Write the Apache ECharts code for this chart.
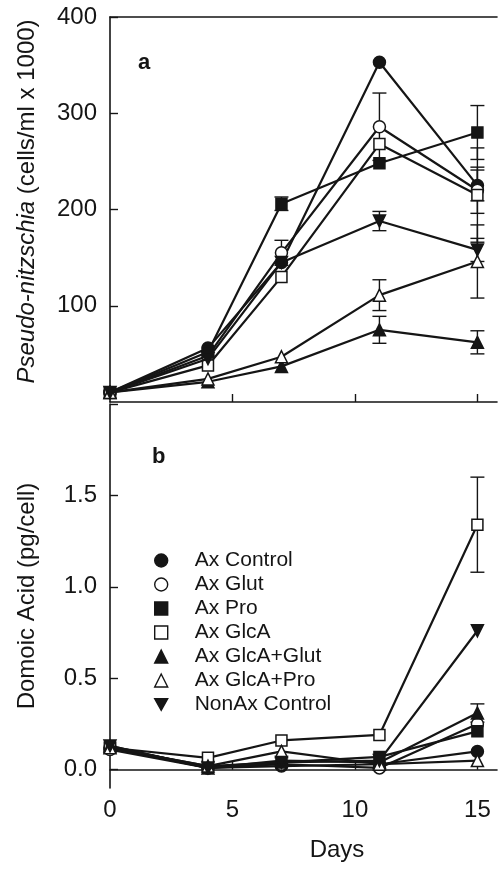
<!DOCTYPE html>
<html>
<head>
<meta charset="utf-8">
<script src="https://cdn.jsdelivr.net/npm/echarts@6/dist/echarts.min.js"></script>
<style>
html, body { margin: 0; padding: 0; background: #fff; }
#chart { width: 498px; height: 880px; }
</style>
</head>
<body>
<div id="chart"></div>
<script>
// sampling days
var days = [0, 4, 7, 11, 15];
var names = ['Ax Control', 'Ax Glut', 'Ax Pro', 'Ax GlcA', 'Ax GlcA+Glut', 'Ax GlcA+Pro', 'NonAx Control'];

// panel a - Pseudo-nitzschia (cells/ml x 1000)
var cellsAxControl = [10, 56, 145, 353, 225];
var cellsAxGlut    = [10, 48, 155, 286, 220];
var cellsAxPro     = [10, 52, 206, 248, 280];
var cellsAxGlcA    = [10, 38, 130, 268, 215];
var cellsGlcAGlut  = [10, 21, 37, 75, 62];
var cellsGlcAPro   = [10, 24, 47, 111, 146];
var cellsNonAx     = [10, 45, 145, 188, 158];

// panel a - error bars (0 = hidden under the marker)
var errAxControl = [0, 0, 0, 0, 16];
var errAxGlut    = [0, 0, 13, 35, 24];
var errAxPro     = [0, 0, 7, 0, 28];
var errAxGlcA    = [0, 0, 0, 0, 49];
var errGlcAGlut  = [0, 0, 0, 14, 12];
var errGlcAPro   = [0, 0, 0, 16, 38];
var errNonAx     = [0, 0, 0, 10, 12];

// panel b - domoic acid (pg/cell)
var daAxControl = [0.12, 0.01, 0.02, 0.03, 0.10];
var daAxGlut    = [0.11, 0.01, 0.03, 0.01, 0.25];
var daAxPro     = [0.12, 0.02, 0.04, 0.07, 0.21];
var daAxGlcA    = [0.12, 0.065, 0.16, 0.19, 1.34];
var daGlcAGlut  = [0.13, 0.01, 0.05, 0.04, 0.31];
var daGlcAPro   = [0.12, 0.02, 0.10, 0.03, 0.05];
var daNonAx     = [0.13, 0.01, 0.04, 0.05, 0.76];

var daErrAxGlcA   = [0, 0, 0, 0, 0.26];
var daErrGlcAGlut = [0, 0, 0, 0, 0.05];

// tick labels
var cellTicks = [100, 200, 300, 400];
var daTicks = [0, 0.5, 1.0, 1.5];
var dayTicks = [0, 5, 10, 15];

var FONT = '"Liberation Sans", Arial, sans-serif';
var INK = '#151515';
var downTri = 'path://M0,0L10,0L5,9Z';

// marker look for each treatment (same order as names)
var marks = [
  { symbol: 'circle',   fill: INK },
  { symbol: 'circle',   fill: '#fff' },
  { symbol: 'rect',     fill: INK },
  { symbol: 'rect',     fill: '#fff' },
  { symbol: 'triangle', fill: INK },
  { symbol: 'triangle', fill: '#fff' },
  { symbol: downTri,    fill: INK }
];

var cellSets = [cellsAxControl, cellsAxGlut, cellsAxPro, cellsAxGlcA, cellsGlcAGlut, cellsGlcAPro, cellsNonAx];
var cellErrs = [errAxControl, errAxGlut, errAxPro, errAxGlcA, errGlcAGlut, errGlcAPro, errNonAx];
var daSets = [daAxControl, daAxGlut, daAxPro, daAxGlcA, daGlcAGlut, daGlcAPro, daNonAx];
var daErrs = [null, null, null, daErrAxGlcA, daErrGlcAGlut, null, null];

function pairs(vals) {
  return days.map(function (d, i) { return [d, vals[i]]; });
}

function errPoints(sets, errs) {
  var out = [];
  sets.forEach(function (vals, s) {
    if (!errs[s]) return;
    errs[s].forEach(function (e, i) {
      if (e > 0) out.push([days[i], vals[i], e]);
    });
  });
  return out;
}

// vertical bar with caps
function errorBar(params, api) {
  var x = api.value(0), y = api.value(1), e = api.value(2);
  var hi = api.coord([x, y + e]);
  var lo = api.coord([x, y - e]);
  var w = 7;
  var st = { stroke: INK, lineWidth: 1.4 };
  return {
    type: 'group',
    children: [
      { type: 'line', shape: { x1: hi[0], y1: hi[1], x2: lo[0], y2: lo[1] }, style: st },
      { type: 'line', shape: { x1: hi[0] - w, y1: hi[1], x2: hi[0] + w, y2: hi[1] }, style: st },
      { type: 'line', shape: { x1: lo[0] - w, y1: lo[1], x2: lo[0] + w, y2: lo[1] }, style: st }
    ]
  };
}

function lineSeries(name, i, vals, xi, yi) {
  var m = marks[i];
  return {
    name: name,
    type: 'line',
    xAxisIndex: xi,
    yAxisIndex: yi,
    data: pairs(vals),
    symbol: m.symbol,
    symbolSize: m.symbol === 'rect' ? 11 : 12,
    clip: false,
    z: 3 + i,
    lineStyle: { color: INK, width: 2.2 },
    itemStyle: { color: m.fill, borderColor: INK, borderWidth: 1.5 },
    emphasis: { disabled: true }
  };
}

var series = [];
names.forEach(function (n, i) { series.push(lineSeries(n, i, cellSets[i], 0, 0)); });
names.forEach(function (n, i) { series.push(lineSeries(n, i, daSets[i], 2, 1)); });
series.push({ type: 'custom', xAxisIndex: 0, yAxisIndex: 0, renderItem: errorBar, data: errPoints(cellSets, cellErrs), z: 1 });
series.push({ type: 'custom', xAxisIndex: 2, yAxisIndex: 1, renderItem: errorBar, data: errPoints(daSets, daErrs), z: 1 });

var axisLine = { show: true, lineStyle: { color: INK, width: 1.6 } };
var tick = { show: true, inside: true, length: 8, lineStyle: { color: INK, width: 1.4 } };

var chart = echarts.init(document.getElementById('chart'));
chart.setOption({
  backgroundColor: '#fff',
  animation: false,
  textStyle: { fontFamily: FONT },
  grid: [
    { left: 110, top: 17, width: 387, height: 385 },
    { left: 110, top: 404, width: 387, height: 384 }
  ],
  xAxis: [
    { gridIndex: 0, type: 'value', min: 0, max: 15.8, axisLine: axisLine,
      axisTick: Object.assign({ customValues: [5, 10, 15] }, tick),
      axisLabel: { show: false }, splitLine: { show: false } },
    { gridIndex: 0, type: 'value', position: 'top', min: 0, max: 15.8, axisLine: axisLine,
      axisTick: { show: false }, axisLabel: { show: false }, splitLine: { show: false } },
    { gridIndex: 1, type: 'value', min: 0, max: 15.8, axisLine: axisLine,
      axisTick: Object.assign({ customValues: [5, 10, 15] }, tick),
      axisLabel: { customValues: dayTicks, margin: 10, fontSize: 24, color: INK, fontFamily: FONT },
      splitLine: { show: false } }
  ],
  yAxis: [
    { gridIndex: 0, type: 'value', min: 0, max: 400, axisLine: axisLine,
      axisTick: Object.assign({ customValues: cellTicks }, tick),
      axisLabel: { customValues: cellTicks, margin: 13, fontSize: 24, color: INK, fontFamily: FONT },
      splitLine: { show: false },
      name: '{i|Pseudo-nitzschia} (cells/ml x 1000)',
      nameLocation: 'middle', nameGap: 71,
      nameTextStyle: { fontSize: 24, color: INK, fontFamily: FONT, padding: [0, 0, 0, 16],
        rich: { i: { fontStyle: 'italic', fontSize: 24, color: INK, fontFamily: FONT } } } },
    { gridIndex: 1, type: 'value', min: -0.1, max: 2.0, axisLine: axisLine,
      axisTick: Object.assign({ customValues: [0, 0.5, 1.0, 1.5, 2.0] }, tick),
      axisLabel: { customValues: daTicks, margin: 13, fontSize: 24, color: INK, fontFamily: FONT,
        formatter: function (v) { return v.toFixed(1); } },
      splitLine: { show: false },
      name: 'Domoic Acid (pg/cell)',
      nameLocation: 'middle', nameGap: 71,
      nameTextStyle: { fontSize: 24, color: INK, fontFamily: FONT } }
  ],
  legend: {
    orient: 'vertical',
    left: 149,
    top: 545,
    itemWidth: 13,
    itemHeight: 13,
    itemGap: 3,
    selectedMode: false,
    textStyle: { fontSize: 21, color: INK, fontFamily: FONT, padding: [0, 0, 0, 22] },
    data: names.map(function (n, i) {
      return {
        name: n,
        icon: marks[i].symbol,
        itemStyle: { color: marks[i].fill, borderColor: INK, borderWidth: 1.4 }
      };
    })
  },
  graphic: [
    { type: 'text', left: 138, top: 52, style: { text: 'a', font: 'bold 22px ' + FONT, fill: INK } },
    { type: 'text', left: 152, top: 446, style: { text: 'b', font: 'bold 22px ' + FONT, fill: INK } },
    { type: 'text', x: 337, y: 850, style: { text: 'Days', font: '24px ' + FONT, fill: INK, align: 'center', verticalAlign: 'middle' } }
  ],
  series: series
});
</script>
</body>
</html>
